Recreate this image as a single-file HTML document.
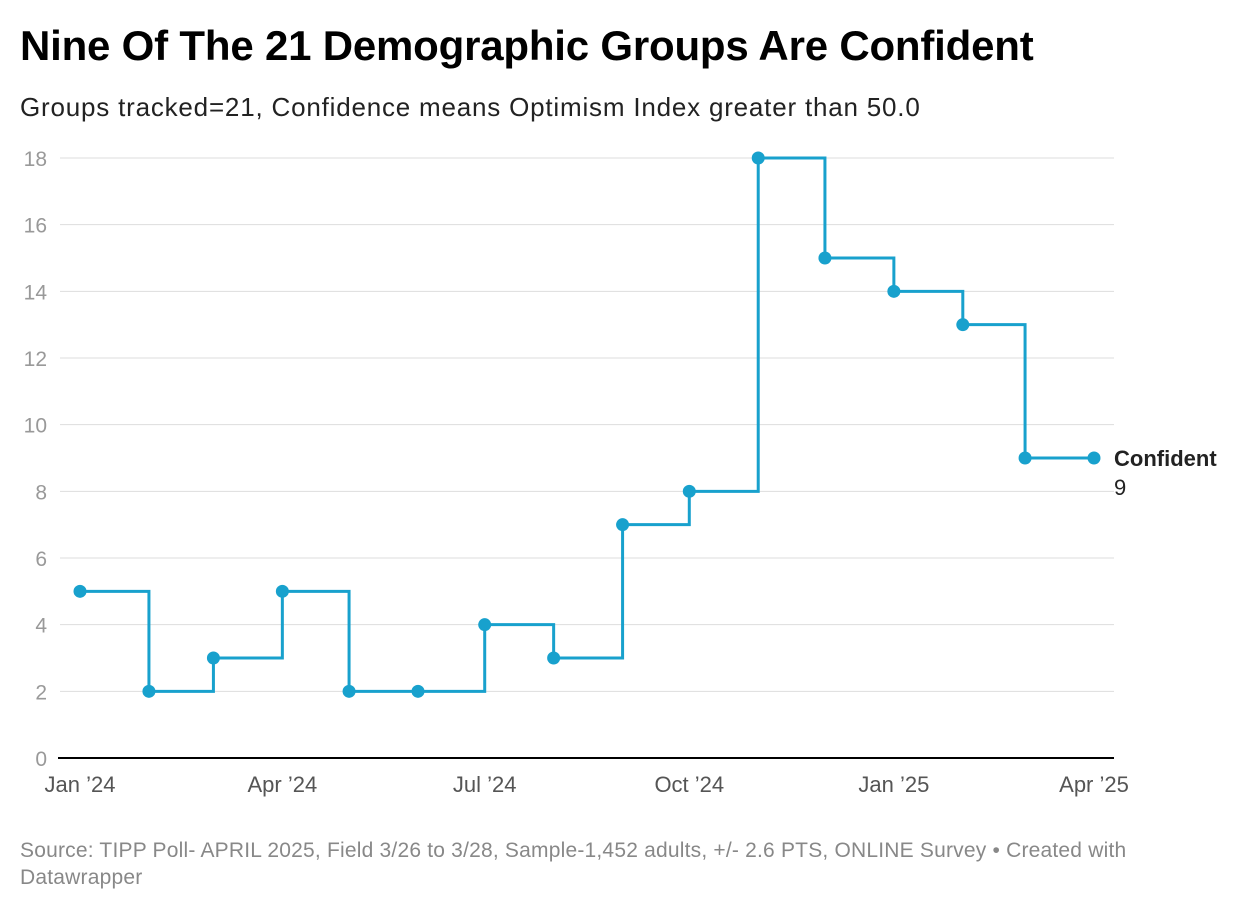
<!DOCTYPE html>
<html><head><meta charset="utf-8">
<style>
body{margin:0;width:1240px;height:910px;background:#fff;font-family:"Liberation Sans",sans-serif;overflow:hidden}
#title{position:absolute;left:20px;top:22px;font-size:42px;font-weight:bold;color:#000;margin:0;letter-spacing:-0.2px}
#sub{position:absolute;left:20px;top:92px;font-size:26px;color:#222;letter-spacing:0.8px}
#foot{position:absolute;left:20px;top:837px;font-size:21px;color:#888;line-height:27px;width:1115px;letter-spacing:0.2px}
svg{position:absolute;left:0;top:0}
</style></head><body>
<h1 id="title">Nine Of The 21 Demographic Groups Are Confident</h1>
<div id="sub">Groups tracked=21, Confidence means Optimism Index greater than 50.0</div>
<svg id="chart" width="1240" height="910"></svg>
<div id="foot">Source: TIPP Poll- APRIL 2025, Field 3/26 to 3/28, Sample-1,452 adults, +/- 2.6 PTS, ONLINE Survey • Created with Datawrapper</div>
<script>
const dates=["2024-01-01","2024-02-01","2024-03-01","2024-04-01","2024-05-01","2024-06-01","2024-07-01","2024-08-01","2024-09-01","2024-10-01","2024-11-01","2024-12-01","2025-01-01","2025-02-01","2025-03-01","2025-04-01"];
const values=[5,2,3,5,2,2,4,3,7,8,18,15,14,13,9,9];
const yTicks=[0,2,4,6,8,10,12,14,16,18];
const xTickDates=["2024-01-01","2024-04-01","2024-07-01","2024-10-01","2025-01-01","2025-04-01"];
const xTickLabels=["Jan ’24","Apr ’24","Jul ’24","Oct ’24","Jan ’25","Apr ’25"];
const NS="http://www.w3.org/2000/svg",svg=document.getElementById("chart");
const t0=Date.parse("2024-01-01"),t1=Date.parse("2025-04-01");
const x=d=>80+(Date.parse(d)-t0)/(t1-t0)*1014;
const y=v=>758-v/18*600;
function mk(tag,at,txt){const e=document.createElementNS(NS,tag);for(const k in at)e.setAttribute(k,at[k]);if(txt!=null)e.textContent=txt;svg.appendChild(e);return e;}
yTicks.forEach(v=>{
 if(v>0){const g=mk("line",{x1:60,x2:1114,y1:y(v),y2:y(v),stroke:"#ddd","stroke-width":1});
 
 }
 const t=mk("text",{x:47,y:y(v)+8,"text-anchor":"end","font-size":21,fill:"#999","font-family":"Liberation Sans"},v);
 
 
});
const ax=mk("line",{x1:58,x2:1114,y1:758,y2:758,stroke:"#000","stroke-width":2});


xTickDates.forEach((d,i)=>{
 const t=mk("text",{x:x(d),y:792,"text-anchor":"middle","font-size":22,fill:"#555","font-family":"Liberation Sans"},xTickLabels[i]);
 
 
});
let p="";
dates.forEach((d,i)=>{p+=(i?"H"+x(d)+"V"+y(values[i]):"M"+x(d)+" "+y(values[i]));});
const line=mk("path",{d:p,fill:"none",stroke:"#18a1cd","stroke-width":3});


dates.forEach((d,i)=>{
 const c=mk("circle",{cx:x(d),cy:y(values[i]),r:6.5,fill:"#18a1cd"});
 
 
});
const last=values.length-1;
const l1=mk("text",{x:1114,y:y(values[last])+8,"font-size":22,"font-weight":"bold",fill:"#222","font-family":"Liberation Sans"},"Confident");


const l2=mk("text",{x:1114,y:y(values[last])+37,"font-size":22,fill:"#222","font-family":"Liberation Sans"},values[last]);


</script>
</body></html>
